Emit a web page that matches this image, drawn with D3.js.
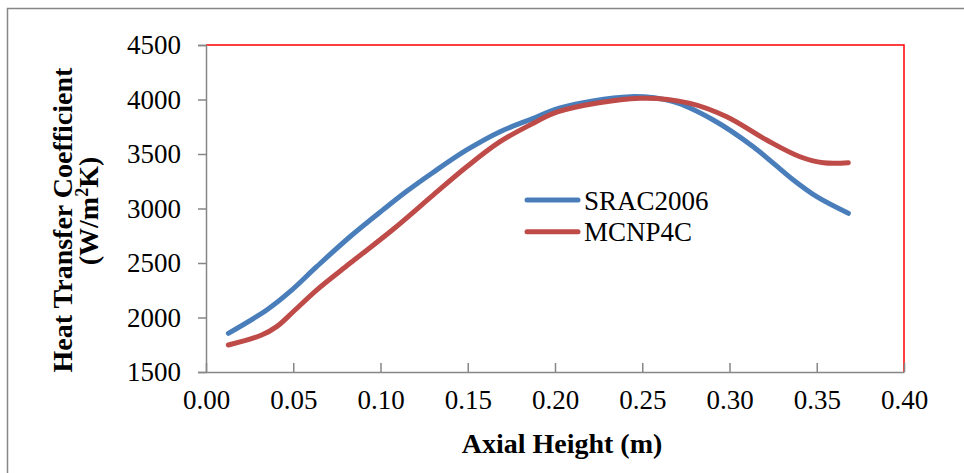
<!DOCTYPE html>
<html>
<head>
<meta charset="utf-8">
<script src="https://cdn.jsdelivr.net/npm/d3@7"></script>
<style>
  html, body { margin: 0; padding: 0; background: #fff; }
  svg { display: block; font-family: "Liberation Serif", "Times New Roman", serif; }
</style>
</head>
<body>
<svg id="chart" width="964" height="473"></svg>
<script>
// ---- data ----
const xTicks = [0.00, 0.05, 0.10, 0.15, 0.20, 0.25, 0.30, 0.35, 0.40];
const yTicks = [1500, 2000, 2500, 3000, 3500, 4000, 4500];

const sracX = [0.0128, 0.0348, 0.0481, 0.0634, 0.0825, 0.1016, 0.1150, 0.1303, 0.1494, 0.1685, 0.1876, 0.2019, 0.2430, 0.2678, 0.2907, 0.3136, 0.3366, 0.3500, 0.3681];
const sracY = [1855, 2069, 2237, 2466, 2741, 2990, 3158, 3333, 3537, 3705, 3827, 3919, 4026, 3980, 3812, 3567, 3261, 3108, 2956];

const mcnpX = [0.0128, 0.0319, 0.0405, 0.0500, 0.0634, 0.0825, 0.1073, 0.1303, 0.1494, 0.1685, 0.1876, 0.2019, 0.2487, 0.2774, 0.2984, 0.3213, 0.3404, 0.3538, 0.3681];
const mcnpY = [1748, 1839, 1916, 2053, 2252, 2497, 2810, 3125, 3383, 3613, 3782, 3888, 4011, 3965, 3842, 3628, 3475, 3420, 3420];

const seriesNames = ["SRAC2006", "MCNP4C"];
const seriesColors = ["#4a7ebb", "#be4b48"];

const series = [
  { name: seriesNames[0], color: seriesColors[0], pts: sracX.map((x, i) => [x, sracY[i]]) },
  { name: seriesNames[1], color: seriesColors[1], pts: mcnpX.map((x, i) => [x, mcnpY[i]]) }
];

// ---- layout ----
const svg = d3.select("#chart");
const L = 206, R = 904, T = 45, B = 372;
const axisGray = "#868686";

const x = d3.scaleLinear().domain([0, 0.4]).range([L, R]);
const y = d3.scaleLinear().domain([1500, 4500]).range([B, T]);

// outer chart border (extends beyond view on right/bottom)
svg.append("rect")
  .attr("x", 7.5).attr("y", 8.5)
  .attr("width", 964).attr("height", 480)
  .attr("fill", "none").attr("stroke", axisGray).attr("stroke-width", 1.5);

// red plot frame (top & right)
svg.append("path")
  .attr("d", `M${L},${T}H${R}V${B}`)
  .attr("fill", "none").attr("stroke", "#ff0000").attr("stroke-width", 1.5);

// y axis
const yAxis = svg.append("g")
  .attr("transform", `translate(${L},0)`)
  .call(d3.axisLeft(y).tickValues(yTicks).tickFormat(d3.format("d")).tickSize(8).tickPadding(17));
yAxis.select(".domain").attr("stroke", axisGray).attr("stroke-width", 1.5);
yAxis.selectAll(".tick line").attr("stroke", axisGray).attr("stroke-width", 1.5);
yAxis.selectAll(".tick text").attr("font-size", 27).attr("fill", "#000")
  .attr("font-family", "Liberation Serif, Times New Roman, serif");

// x axis (ticks inside)
const xAxis = svg.append("g")
  .attr("transform", `translate(0,${B})`)
  .call(d3.axisBottom(x).tickValues(xTicks).tickFormat(d3.format(".2f")).tickSizeInner(-9).tickSizeOuter(0).tickPadding(18));
xAxis.select(".domain").attr("stroke", axisGray).attr("stroke-width", 1.5);
xAxis.selectAll(".tick line").attr("stroke", axisGray).attr("stroke-width", 1.5);
xAxis.selectAll(".tick text").attr("font-size", 27).attr("fill", "#000")
  .attr("font-family", "Liberation Serif, Times New Roman, serif");

// lines
const line = d3.line().x(d => x(d[0])).y(d => y(d[1])).curve(d3.curveCatmullRom.alpha(0.5));
svg.selectAll("path.series").data(series).enter().append("path")
  .attr("class", "series")
  .attr("d", d => line(d.pts))
  .attr("fill", "none")
  .attr("stroke", d => d.color)
  .attr("stroke-width", 5)
  .attr("stroke-linecap", "round")
  .attr("stroke-linejoin", "round");

// legend
const leg = svg.append("g");
series.forEach((s, i) => {
  const cy = 200 + i * 31.7;
  leg.append("line").attr("x1", 527).attr("x2", 578).attr("y1", cy).attr("y2", cy)
    .attr("stroke", s.color).attr("stroke-width", 5).attr("stroke-linecap", "round");
  leg.append("text").attr("x", 584).attr("y", cy + 9.5)
    .attr("font-size", 27).attr("fill", "#000").text(s.name);
});

// axis titles
svg.append("text")
  .attr("x", 562).attr("y", 453)
  .attr("text-anchor", "middle").attr("font-size", 28).attr("font-weight", "bold")
  .text("Axial Height (m)");

const yt = svg.append("g");
yt.append("text")
  .attr("transform", "translate(72,220) rotate(-90)")
  .attr("text-anchor", "middle").attr("font-size", 28).attr("font-weight", "bold")
  .text("Heat Transfer Coefficient");
const yt2 = yt.append("text")
  .attr("transform", "translate(98,211) rotate(-90)")
  .attr("text-anchor", "middle").attr("font-size", 28).attr("font-weight", "bold");
yt2.append("tspan").text("(W/m");
yt2.append("tspan").attr("font-size", 18).attr("dy", -10).text("2");
yt2.append("tspan").attr("dy", 10).text("K)");
</script>
</body>
</html>
